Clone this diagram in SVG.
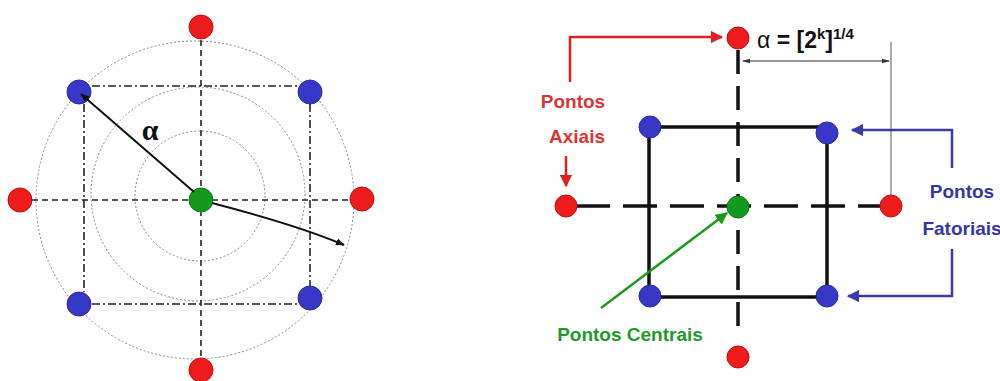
<svg xmlns="http://www.w3.org/2000/svg" width="1000" height="381" viewBox="0 0 1000 381">
  <style>
    .red { fill: #ee1c1c; stroke: #c01010; stroke-width: 1; }
    .blue { fill: #3838c8; stroke: #2a2aa0; stroke-width: 1; }
    .green { fill: #129a1e; stroke: #0c7a14; stroke-width: 1; }
    .ring { fill: none; stroke: #888; stroke-width: 1; stroke-dasharray: 2 2; }
    .axis { stroke: #222; stroke-width: 1.6; stroke-dasharray: 6 4; fill: none; }
    .square { stroke: #222; stroke-width: 1.6; stroke-dasharray: 8 3 2 3; fill: none; }
    .thick { stroke: #111; stroke-width: 3.5; fill: none; }
    .thickdash { stroke: #111; stroke-width: 3.5; fill: none; }
    .lbl { font-family: "Liberation Sans", Arial, sans-serif; font-weight: bold; font-size: 19px; text-anchor: middle; }
  </style>
  <defs>
    <marker id="ahBlack" viewBox="0 0 10 10" refX="9" refY="5" markerWidth="4.5" markerHeight="4.5" orient="auto">
      <path d="M0,1 L10,5 L0,9 z" fill="#111"/>
    </marker>
    <marker id="ahThin" viewBox="0 0 10 10" refX="9" refY="5" markerWidth="8" markerHeight="8" orient="auto-start-reverse">
      <path d="M0,2 L10,5 L0,8 z" fill="#333"/>
    </marker>
    <marker id="ahRed" viewBox="0 0 10 10" refX="9" refY="5" markerWidth="5" markerHeight="5" orient="auto">
      <path d="M0,0 L10,5 L0,10 z" fill="#e02020"/>
    </marker>
    <marker id="ahBlue" viewBox="0 0 10 10" refX="9" refY="5" markerWidth="5" markerHeight="5" orient="auto">
      <path d="M0,0 L10,5 L0,10 z" fill="#3a3aa8"/>
    </marker>
    <marker id="ahGreen" viewBox="0 0 10 10" refX="9" refY="5" markerWidth="5" markerHeight="5" orient="auto">
      <path d="M0,0 L10,5 L0,10 z" fill="#1c9a1c"/>
    </marker>
  </defs>

  <rect width="1000" height="381" fill="#ffffff"/>

  <!-- Left: rotatable design with guide circles -->
  <g id="connectors-left">
    <circle class="ring" cx="195" cy="200" r="159"/>
    <circle class="ring" cx="198" cy="194" r="107"/>
    <circle class="ring" cx="200" cy="196" r="65"/>
    <line class="axis" x1="201" y1="40" x2="201" y2="360"/>
    <line class="axis" x1="32" y1="200" x2="350" y2="200"/>
    <line class="square" x1="92" y1="86" x2="300" y2="86"/>
    <line class="square" x1="84" y1="104" x2="84" y2="292"/>
    <line class="square" x1="310" y1="104" x2="310" y2="286"/>
    <line class="square" x1="92" y1="304" x2="300" y2="304"/>
  </g>

  <g id="left-axial">
    <circle class="red" cx="201" cy="27" r="12"/>
    <circle class="red" cx="201" cy="370" r="12"/>
    <circle class="red" cx="20" cy="200" r="12"/>
    <circle class="red" cx="362" cy="199" r="12"/>
  </g>
  <g id="left-factorial">
    <circle class="blue" cx="79" cy="92" r="12"/>
    <circle class="blue" cx="310" cy="92" r="12"/>
    <circle class="blue" cx="79" cy="304" r="12"/>
    <circle class="blue" cx="310" cy="298" r="12"/>
  </g>
  <g id="left-center">
    <circle class="green" cx="201" cy="200" r="12"/>
  </g>

  <!-- radius arrows drawn over the points -->
  <g id="radius-arrows">
    <line x1="194" y1="192" x2="81" y2="94" stroke="#111" stroke-width="2" marker-end="url(#ahBlack)"/>
    <path d="M212,203 Q300,226 344,245" fill="none" stroke="#111" stroke-width="2" marker-end="url(#ahBlack)"/>
  </g>
  <text x="150" y="140" font-family="Liberation Serif, 'Times New Roman', serif" font-weight="bold" font-size="30" text-anchor="middle" fill="#111">α</text>

  <!-- Right: labelled central composite design -->
  <g id="connectors-right">
    <line class="thick" x1="650" y1="127" x2="826" y2="127"/>
    <line class="thick" x1="649" y1="127" x2="649" y2="297"/>
    <line class="thick" x1="827" y1="133" x2="827" y2="297"/>
    <line class="thick" x1="649" y1="297" x2="827" y2="297"/>
    <line class="thickdash" x1="738" y1="50" x2="738" y2="336" stroke-dasharray="24 12"/>
    <line class="thickdash" x1="576" y1="206" x2="882" y2="206" stroke-dasharray="34 13"/>
    <line x1="891" y1="42" x2="891" y2="196" stroke="#555" stroke-width="1"/>
    <line x1="743" y1="61" x2="889" y2="61" stroke="#333" stroke-width="1" marker-start="url(#ahThin)" marker-end="url(#ahThin)"/>
    <polyline points="570,82 570,37 722,37" fill="none" stroke="#e02020" stroke-width="2.5" marker-end="url(#ahRed)"/>
    <line x1="566" y1="156" x2="566" y2="186" stroke="#e02020" stroke-width="2.5" marker-end="url(#ahRed)"/>
    <polyline points="952,168 952,130 852,130" fill="none" stroke="#3a3aa8" stroke-width="2.5" marker-end="url(#ahBlue)"/>
    <polyline points="952,249 952,296 848,296" fill="none" stroke="#3a3aa8" stroke-width="2.5" marker-end="url(#ahBlue)"/>
    <line x1="601" y1="308" x2="727" y2="213" stroke="#1c9a1c" stroke-width="2.5" marker-end="url(#ahGreen)"/>
  </g>

  <g id="right-axial">
    <circle class="red" cx="738" cy="38" r="11"/>
    <circle class="red" cx="738" cy="357" r="11"/>
    <circle class="red" cx="566" cy="206" r="11"/>
    <circle class="red" cx="891" cy="206" r="11"/>
  </g>
  <g id="right-factorial">
    <circle class="blue" cx="650" cy="127" r="11"/>
    <circle class="blue" cx="827" cy="133" r="11"/>
    <circle class="blue" cx="650" cy="296" r="11"/>
    <circle class="blue" cx="827" cy="296" r="11"/>
  </g>
  <g id="right-center">
    <circle class="green" cx="738" cy="207" r="11"/>
  </g>

  <text x="757" y="48" font-family="'Liberation Sans', Arial, sans-serif" font-size="23" fill="#111"><tspan>α</tspan><tspan font-weight="bold"> = [2</tspan><tspan font-weight="bold" font-size="15" dy="-9">k</tspan><tspan font-weight="bold" dy="9">]</tspan><tspan font-weight="bold" font-size="15" dy="-9">1/4</tspan></text>

  <g id="label-axial">
    <text class="lbl" x="573" y="108" fill="#dc3434">Pontos</text>
    <text class="lbl" x="577" y="143" fill="#dc3434">Axiais</text>
  </g>
  <g id="label-factorial">
    <text class="lbl" x="962" y="198" fill="#3535a5">Pontos</text>
    <text class="lbl" x="962" y="235" fill="#3535a5">Fatoriais</text>
  </g>
  <g id="label-center">
    <text class="lbl" x="630" y="341" fill="#1f9a2a">Pontos Centrais</text>
  </g>
</svg>
